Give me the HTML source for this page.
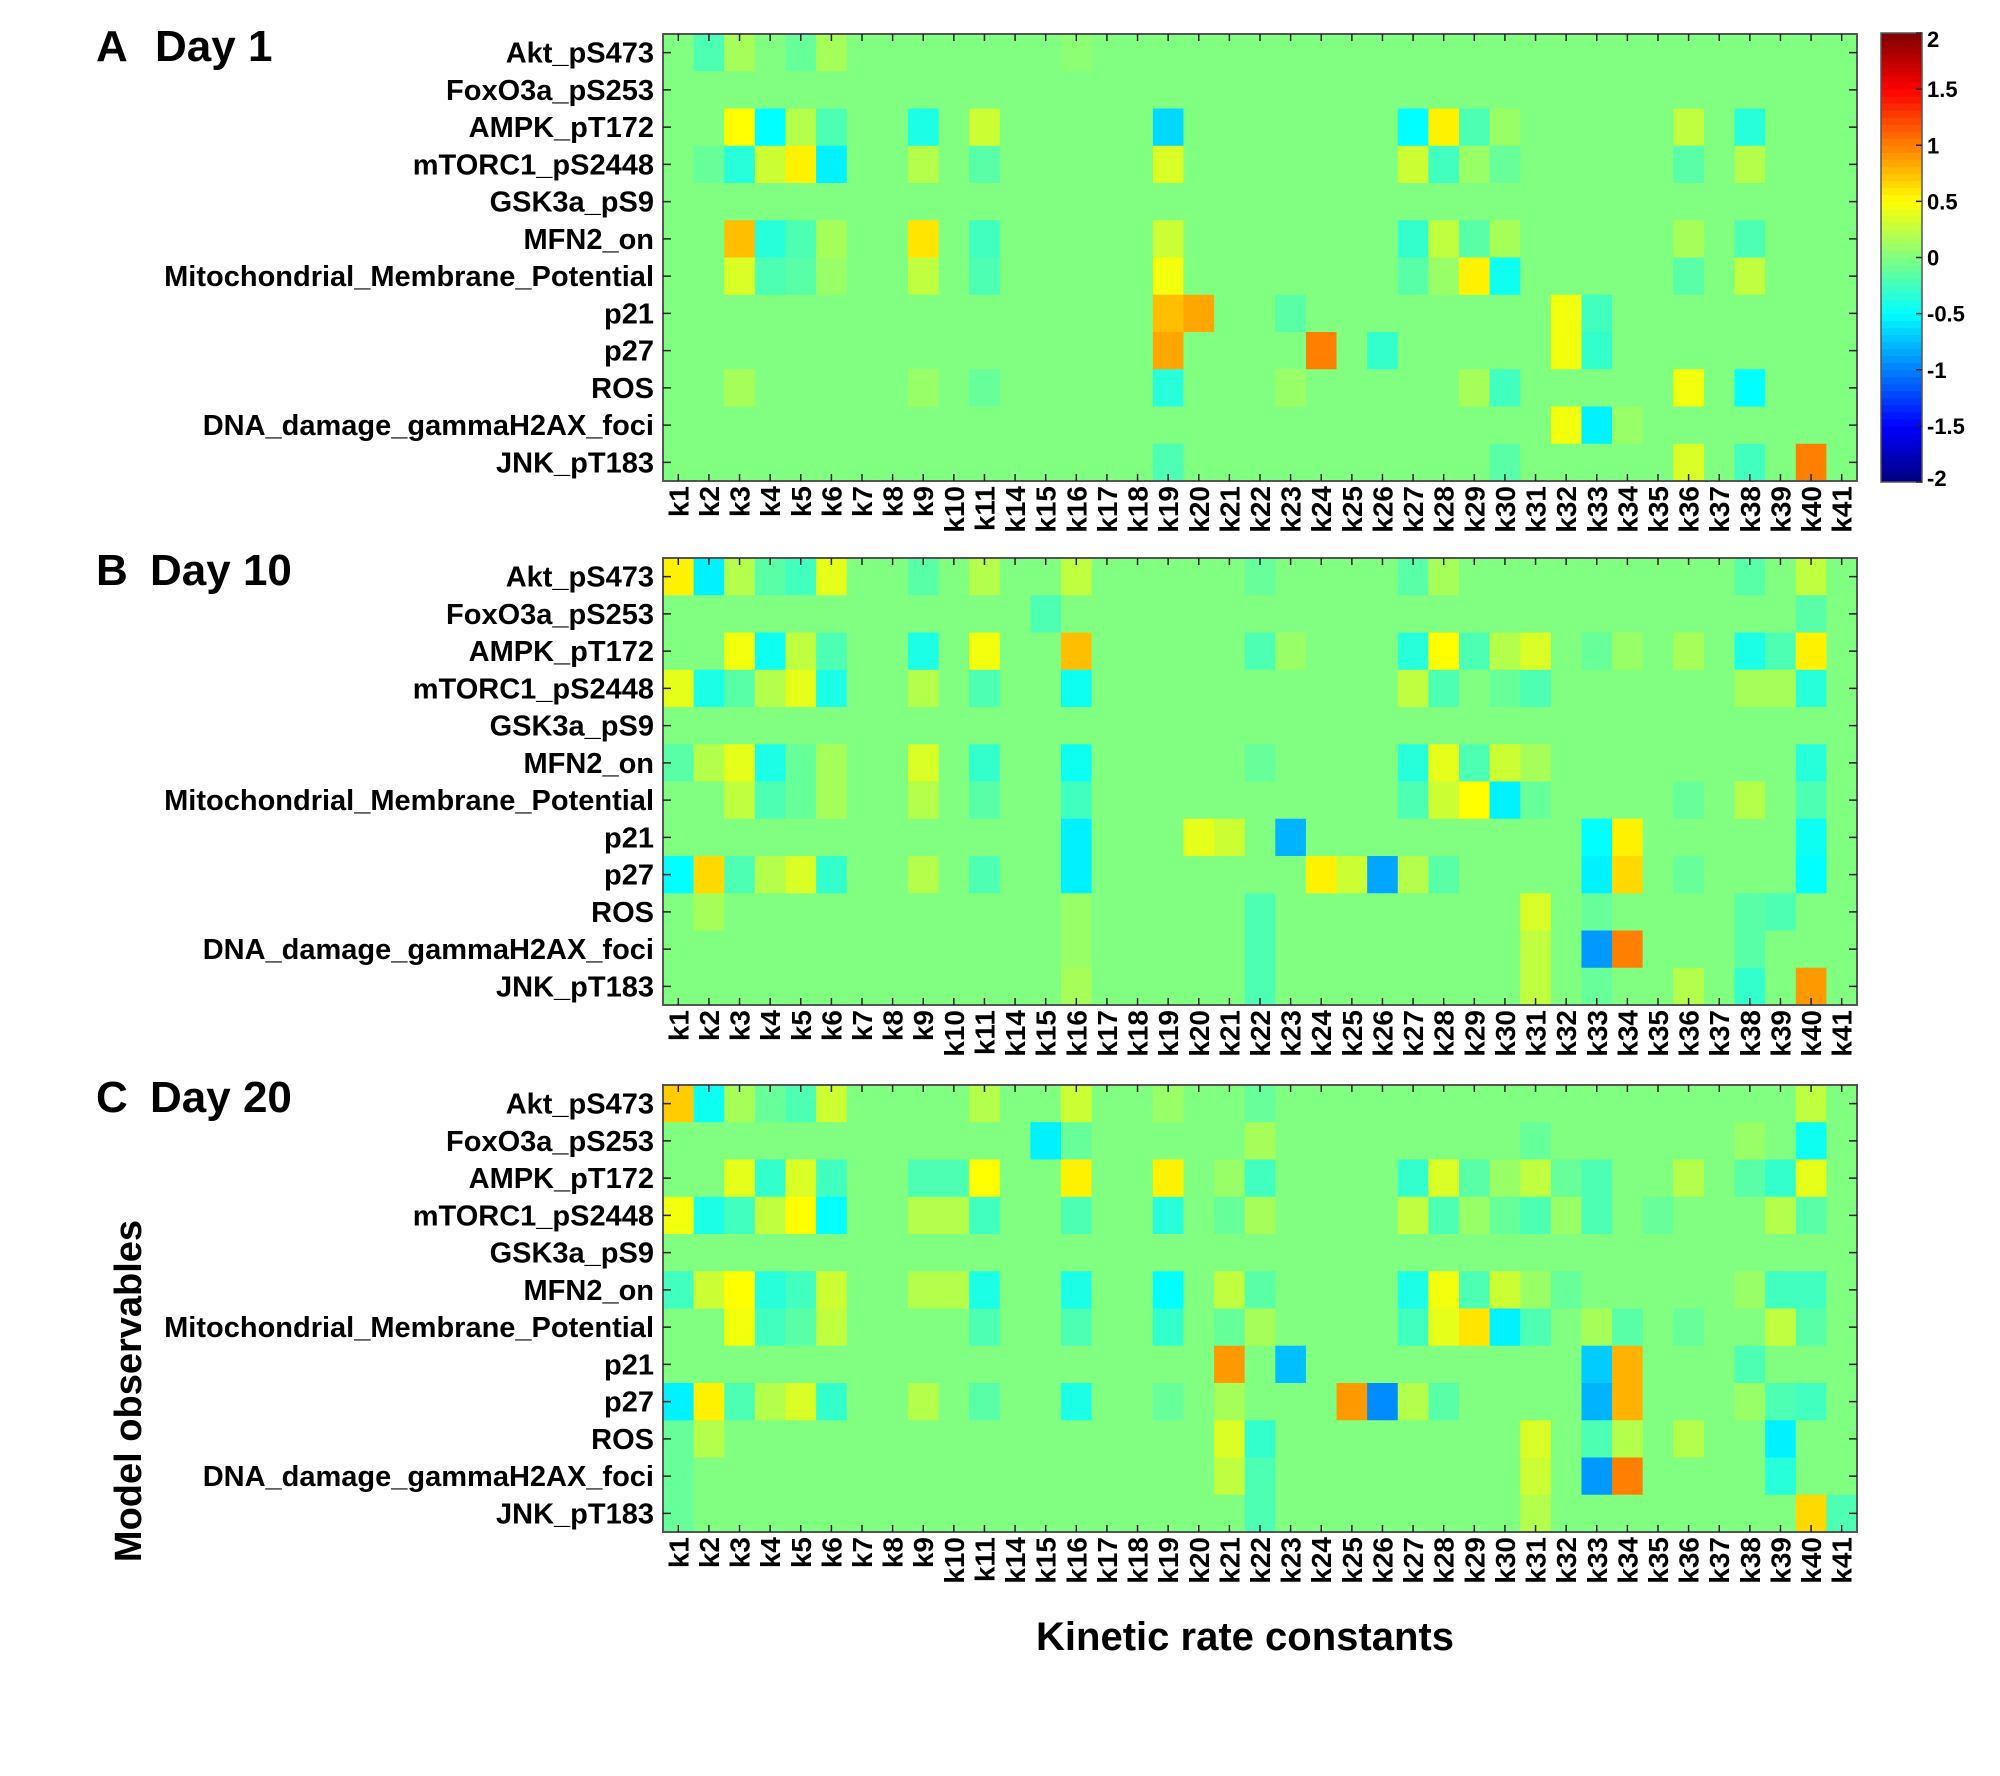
<!DOCTYPE html>
<html><head><meta charset="utf-8">
<style>
html,body{margin:0;padding:0;background:#fff;}
svg{display:block;font-family:"Liberation Sans",Arial,sans-serif;font-weight:bold;}
</style></head>
<body>
<svg id="fig" width="2000" height="1776" viewBox="0 0 2000 1776" xmlns="http://www.w3.org/2000/svg"></svg>
<script>
const categories = ["k1","k2","k3","k4","k5","k6","k7","k8","k9","k10","k11","k14","k15","k16","k17","k18","k19","k20","k21","k22","k23","k24","k25","k26","k27","k28","k29","k30","k31","k32","k33","k34","k35","k36","k37","k38","k39","k40","k41"];
const observables = ["Akt_pS473","FoxO3a_pS253","AMPK_pT172","mTORC1_pS2448","GSK3a_pS9","MFN2_on","Mitochondrial_Membrane_Potential","p21","p27","ROS","DNA_damage_gammaH2AX_foci","JNK_pT183"];
const colorbarTicks = [2,1.5,1,0.5,0,-0.5,-1,-1.5,-2];
const colorbarTickLabels = ["2","1.5","1","0.5","0","-0.5","-1","-1.5","-2"];
const panelLabels = ["A","B","C"];
const panelTitles = ["Day 1","Day 10","Day 20"];
// Non-zero cells per panel: [row, kName, value]
const day1Values = [
[0,"k2",-0.2],[0,"k3",0.15],[0,"k5",-0.1],[0,"k6",0.15],[0,"k16",0.05],
[2,"k3",0.5],[2,"k4",-0.5],[2,"k5",0.2],[2,"k6",-0.2],[2,"k9",-0.4],[2,"k11",0.3],[2,"k19",-0.65],[2,"k27",-0.5],[2,"k28",0.55],[2,"k29",-0.2],[2,"k30",0.1],[2,"k36",0.25],[2,"k38",-0.35],
[3,"k2",-0.1],[3,"k3",-0.35],[3,"k4",0.3],[3,"k5",0.55],[3,"k6",-0.55],[3,"k9",0.2],[3,"k11",-0.15],[3,"k19",0.35],[3,"k27",0.3],[3,"k28",-0.25],[3,"k29",0.1],[3,"k30",-0.1],[3,"k36",-0.15],[3,"k38",0.2],
[5,"k3",0.75],[5,"k4",-0.35],[5,"k5",-0.2],[5,"k6",0.15],[5,"k9",0.6],[5,"k11",-0.25],[5,"k19",0.3],[5,"k27",-0.3],[5,"k28",0.25],[5,"k29",-0.15],[5,"k30",0.15],[5,"k36",0.15],[5,"k38",-0.2],
[6,"k3",0.35],[6,"k4",-0.2],[6,"k5",-0.15],[6,"k6",0.1],[6,"k9",0.25],[6,"k11",-0.2],[6,"k19",0.45],[6,"k27",-0.15],[6,"k28",0.1],[6,"k29",0.55],[6,"k30",-0.45],[6,"k36",-0.15],[6,"k38",0.25],
[7,"k19",0.75],[7,"k20",0.85],[7,"k23",-0.15],[7,"k32",0.45],[7,"k33",-0.25],
[8,"k19",0.85],[8,"k24",1.0],[8,"k26",-0.3],[8,"k32",0.45],[8,"k33",-0.3],
[9,"k3",0.15],[9,"k9",0.1],[9,"k11",-0.1],[9,"k19",-0.35],[9,"k23",0.1],[9,"k29",0.15],[9,"k30",-0.25],[9,"k36",0.45],[9,"k38",-0.5],
[10,"k32",0.45],[10,"k33",-0.55],[10,"k34",0.1],
[11,"k19",-0.2],[11,"k30",-0.15],[11,"k36",0.35],[11,"k38",-0.25],[11,"k40",1.0]
];
const day10Values = [
[0,"k1",0.55],[0,"k2",-0.55],[0,"k3",0.2],[0,"k4",-0.15],[0,"k5",-0.25],[0,"k6",0.4],[0,"k9",-0.15],[0,"k11",0.2],[0,"k16",0.25],[0,"k22",-0.1],[0,"k27",-0.15],[0,"k28",0.15],[0,"k38",-0.15],[0,"k40",0.25],
[1,"k15",-0.2],[1,"k40",-0.15],
[2,"k3",0.45],[2,"k4",-0.45],[2,"k5",0.25],[2,"k6",-0.2],[2,"k9",-0.4],[2,"k11",0.45],[2,"k16",0.75],[2,"k22",-0.2],[2,"k23",0.1],[2,"k27",-0.35],[2,"k28",0.5],[2,"k29",-0.2],[2,"k30",0.2],[2,"k31",0.35],[2,"k33",-0.1],[2,"k34",0.1],[2,"k36",0.15],[2,"k38",-0.4],[2,"k39",-0.2],[2,"k40",0.55],
[3,"k1",0.4],[3,"k2",-0.4],[3,"k3",-0.15],[3,"k4",0.2],[3,"k5",0.4],[3,"k6",-0.4],[3,"k9",0.2],[3,"k11",-0.2],[3,"k16",-0.45],[3,"k27",0.25],[3,"k28",-0.2],[3,"k30",-0.1],[3,"k31",-0.2],[3,"k38",0.15],[3,"k39",0.15],[3,"k40",-0.35],
[5,"k1",-0.15],[5,"k2",0.2],[5,"k3",0.4],[5,"k4",-0.4],[5,"k5",-0.1],[5,"k6",0.15],[5,"k9",0.35],[5,"k11",-0.3],[5,"k16",-0.45],[5,"k22",-0.1],[5,"k27",-0.35],[5,"k28",0.4],[5,"k29",-0.2],[5,"k30",0.3],[5,"k31",0.15],[5,"k40",-0.35],
[6,"k3",0.25],[6,"k4",-0.2],[6,"k5",-0.1],[6,"k6",0.15],[6,"k9",0.2],[6,"k11",-0.15],[6,"k16",-0.25],[6,"k27",-0.2],[6,"k28",0.3],[6,"k29",0.5],[6,"k30",-0.55],[6,"k31",-0.1],[6,"k36",-0.1],[6,"k38",0.2],[6,"k40",-0.2],
[7,"k16",-0.55],[7,"k20",0.4],[7,"k21",0.3],[7,"k23",-0.8],[7,"k33",-0.5],[7,"k34",0.55],[7,"k40",-0.45],
[8,"k1",-0.5],[8,"k2",0.65],[8,"k3",-0.2],[8,"k4",0.2],[8,"k5",0.35],[8,"k6",-0.3],[8,"k9",0.2],[8,"k11",-0.2],[8,"k16",-0.55],[8,"k24",0.55],[8,"k25",0.3],[8,"k26",-0.85],[8,"k27",0.2],[8,"k28",-0.15],[8,"k33",-0.55],[8,"k34",0.65],[8,"k36",-0.1],[8,"k40",-0.5],
[9,"k2",0.15],[9,"k16",0.1],[9,"k22",-0.2],[9,"k31",0.35],[9,"k33",-0.1],[9,"k38",-0.15],[9,"k39",-0.2],
[10,"k16",0.1],[10,"k22",-0.2],[10,"k31",0.25],[10,"k33",-0.9],[10,"k34",1.0],[10,"k38",-0.15],
[11,"k16",0.15],[11,"k22",-0.2],[11,"k31",0.25],[11,"k33",-0.1],[11,"k36",0.2],[11,"k38",-0.3],[11,"k40",0.9]
];
const day20Values = [
[0,"k1",0.7],[0,"k2",-0.45],[0,"k3",0.15],[0,"k4",-0.1],[0,"k5",-0.2],[0,"k6",0.3],[0,"k11",0.2],[0,"k16",0.3],[0,"k19",0.1],[0,"k22",-0.1],[0,"k40",0.25],
[1,"k15",-0.55],[1,"k16",-0.1],[1,"k22",0.15],[1,"k31",-0.1],[1,"k38",0.1],[1,"k40",-0.45],
[2,"k3",0.4],[2,"k4",-0.3],[2,"k5",0.35],[2,"k6",-0.25],[2,"k9",-0.2],[2,"k10",-0.2],[2,"k11",0.5],[2,"k16",0.55],[2,"k19",0.55],[2,"k21",0.1],[2,"k22",-0.25],[2,"k27",-0.3],[2,"k28",0.35],[2,"k29",-0.15],[2,"k30",0.1],[2,"k31",0.25],[2,"k32",-0.1],[2,"k33",-0.2],[2,"k36",0.2],[2,"k38",-0.15],[2,"k39",-0.3],[2,"k40",0.4],
[3,"k1",0.45],[3,"k2",-0.4],[3,"k3",-0.25],[3,"k4",0.25],[3,"k5",0.5],[3,"k6",-0.5],[3,"k9",0.2],[3,"k10",0.2],[3,"k11",-0.25],[3,"k16",-0.2],[3,"k19",-0.35],[3,"k21",-0.1],[3,"k22",0.15],[3,"k27",0.25],[3,"k28",-0.2],[3,"k29",0.1],[3,"k30",-0.1],[3,"k31",-0.2],[3,"k32",0.1],[3,"k33",-0.2],[3,"k35",-0.1],[3,"k39",0.2],[3,"k40",-0.15],
[5,"k1",-0.25],[5,"k2",0.3],[5,"k3",0.5],[5,"k4",-0.35],[5,"k5",-0.25],[5,"k6",0.3],[5,"k9",0.2],[5,"k10",0.2],[5,"k11",-0.4],[5,"k16",-0.4],[5,"k19",-0.5],[5,"k21",0.25],[5,"k22",-0.15],[5,"k27",-0.4],[5,"k28",0.45],[5,"k29",-0.2],[5,"k30",0.3],[5,"k31",0.1],[5,"k32",-0.1],[5,"k38",0.1],[5,"k39",-0.25],[5,"k40",-0.25],
[6,"k3",0.45],[6,"k4",-0.25],[6,"k5",-0.15],[6,"k6",0.25],[6,"k11",-0.2],[6,"k16",-0.2],[6,"k19",-0.3],[6,"k21",-0.1],[6,"k22",0.15],[6,"k27",-0.25],[6,"k28",0.4],[6,"k29",0.6],[6,"k30",-0.55],[6,"k31",-0.2],[6,"k33",0.15],[6,"k34",-0.15],[6,"k36",-0.1],[6,"k39",0.25],[6,"k40",-0.15],
[7,"k21",0.9],[7,"k23",-0.75],[7,"k33",-0.7],[7,"k34",0.8],[7,"k38",-0.2],
[8,"k1",-0.55],[8,"k2",0.55],[8,"k3",-0.2],[8,"k4",0.2],[8,"k5",0.35],[8,"k6",-0.3],[8,"k9",0.2],[8,"k11",-0.15],[8,"k16",-0.4],[8,"k19",-0.1],[8,"k21",0.15],[8,"k25",0.9],[8,"k26",-0.95],[8,"k27",0.2],[8,"k28",-0.15],[8,"k33",-0.8],[8,"k34",0.8],[8,"k38",0.1],[8,"k39",-0.2],[8,"k40",-0.25],
[9,"k1",-0.1],[9,"k2",0.2],[9,"k21",0.35],[9,"k22",-0.3],[9,"k31",0.35],[9,"k33",-0.2],[9,"k34",0.2],[9,"k36",0.2],[9,"k39",-0.55],
[10,"k1",-0.1],[10,"k21",0.25],[10,"k22",-0.2],[10,"k31",0.3],[10,"k33",-0.9],[10,"k34",1.0],[10,"k39",-0.35],
[11,"k1",-0.1],[11,"k22",-0.2],[11,"k31",0.2],[11,"k40",0.65],[11,"k41",-0.2]
];
const panelData = [day1Values, day10Values, day20Values];

const NS = "http://www.w3.org/2000/svg";
const svg = document.getElementById("fig");
function mk(tag, attrs, parent){ const e=document.createElementNS(NS,tag); for(const k in attrs) e.setAttribute(k,attrs[k]); (parent||svg).appendChild(e); return e; }
function jet(v){
  let t=(v+2)/4; t=Math.max(0,Math.min(1,t));
  const f=x=>Math.max(0,Math.min(1,x));
  const r=f(1.5-Math.abs(4*t-3)), g=f(1.5-Math.abs(4*t-2)), b=f(1.5-Math.abs(4*t-1));
  return `rgb(${Math.round(r*255)},${Math.round(g*255)},${Math.round(b*255)})`;
}
const X0=663, X1=1857, nC=categories.length, nR=observables.length;
const cw=(X1-X0)/nC;
const panelTops=[34,558,1085], H=447, rh=H/nR;
const xPos=i=>X0+i*cw;
panelTops.forEach((top,p)=>{
  const g=mk("g",{});
  
  
  const yPos=r=>top+r*rh;
  const grid=observables.map(()=>categories.map(()=>0));
  panelData[p].forEach(([r,k,v])=>{ grid[r][categories.indexOf(k)]=v; });
  grid.forEach((row,r)=>row.forEach((v,c)=>{
    const rc=mk("rect",{x:xPos(c),y:yPos(r),width:cw+0.6,height:rh+0.6,fill:jet(v)},g);
    
    
  }));
  const fr=mk("rect",{x:X0,y:top,width:X1-X0,height:H,fill:"none",stroke:"#555","stroke-width":2},g);
  
  
  categories.forEach((k,c)=>{
    const cx=xPos(c)+cw/2;
    mk("line",{x1:cx,y1:top,x2:cx,y2:top+7,stroke:"#222","stroke-width":1.5},g);
    mk("line",{x1:cx,y1:top+H,x2:cx,y2:top+H-7,stroke:"#222","stroke-width":1.5},g);
    const t=mk("text",{x:0,y:0,"font-size":28,"text-anchor":"end",transform:`translate(${cx+10},${top+H+5}) rotate(-90)`},g);
    t.textContent=k;
    
    
  });
  observables.forEach((o,r)=>{
    const cy=yPos(r)+rh/2;
    mk("line",{x1:X0,y1:cy,x2:X0+8,y2:cy,stroke:"#222","stroke-width":1.5},g);
    mk("line",{x1:X1,y1:cy,x2:X1-8,y2:cy,stroke:"#222","stroke-width":1.5},g);
    const t=mk("text",{x:654,y:cy+10,"font-size":29,"text-anchor":"end"},g);
    t.textContent=o;
    
    
  });
  const pl=mk("text",{x:96,y:top+27,"font-size":44},g);
  pl.textContent=panelLabels[p];
  
  
  const pt=mk("text",{x:p===0?155:150,y:top+27,"font-size":44},g);
  pt.textContent=panelTitles[p];
  
  
});
// colorbar
const CB={x:1881,w:41,top:33,bot:482};
const cbY=v=>CB.bot-(v+2)/4*(CB.bot-CB.top);
const cb=mk("g",{});


for(let i=0;i<64;i++){
  const v0=-2+i*4/64, v1=v0+4/64;
  mk("rect",{x:CB.x,y:cbY(v1),width:CB.w,height:cbY(v0)-cbY(v1)+0.5,fill:jet(v0+2/64)},cb);
}
mk("rect",{x:CB.x,y:CB.top,width:CB.w,height:CB.bot-CB.top,fill:"none",stroke:"#555","stroke-width":1.5},cb);
colorbarTicks.forEach((v,i)=>{
  mk("line",{x1:CB.x+CB.w-6,y1:cbY(v),x2:CB.x+CB.w,y2:cbY(v),stroke:"#222","stroke-width":1.5},cb);
  const t=mk("text",{x:CB.x+CB.w+5,y:cbY(v)+8+(v===2?6:v===-2?-4:0),"font-size":22},cb);
  t.textContent=colorbarTickLabels[i];
  
  
});
const yt=mk("text",{x:0,y:0,"font-size":38,"text-anchor":"middle",transform:"translate(141,1391) rotate(-90)"});
yt.textContent="Model observables";


const xt=mk("text",{x:1245,y:1650,"font-size":40,"text-anchor":"middle"});
xt.textContent="Kinetic rate constants";


</script>
</body></html>
